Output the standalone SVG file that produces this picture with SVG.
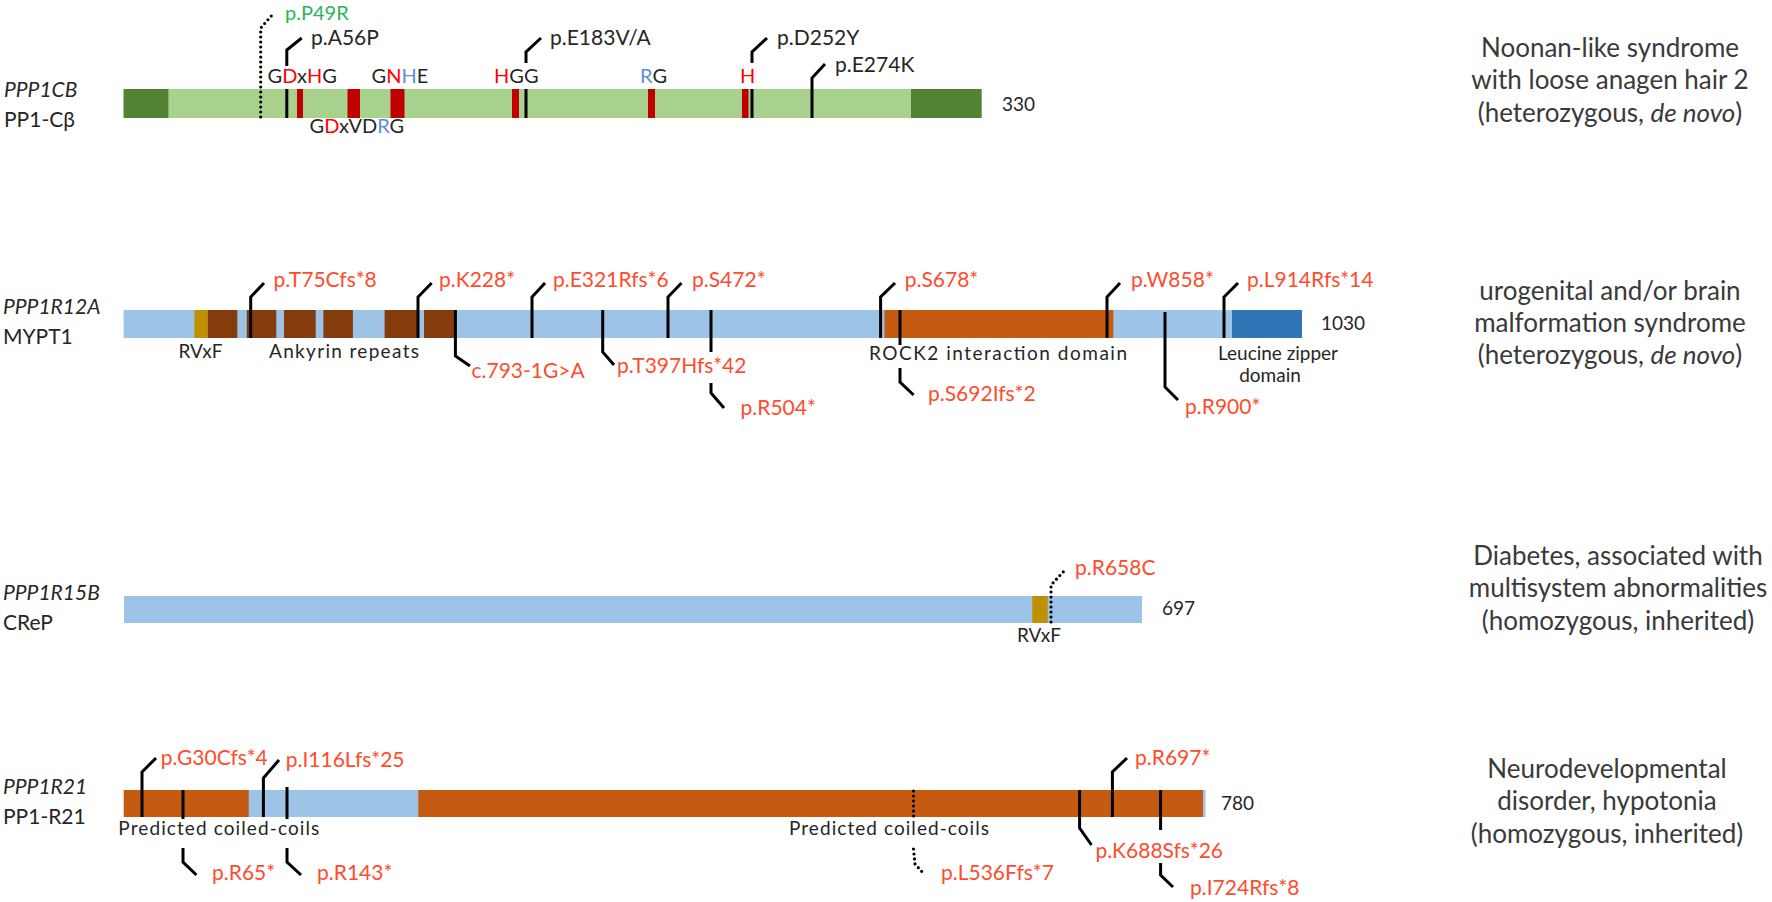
<svg xmlns="http://www.w3.org/2000/svg" width="1772" height="902" viewBox="0 0 1772 902">
<style>
text{font-family:Lato,"Open Sans","Liberation Sans",sans-serif}
.gene{font-size:21px;fill:#262626;font-style:italic}
.prot{font-size:21px;fill:#262626}
.mut{font-size:21px;fill:#fe4c2c}
.mutk{font-size:21px;fill:#262626}
.mutg{font-size:20px;fill:#2db35d}
.mot{font-size:20px;fill:#262626}
.dom{font-size:19px;fill:#262626}
.len{font-size:19px;fill:#262626}
.dis{font-size:26px;fill:#3a3a3a;text-anchor:middle}
.ln{stroke:#000;stroke-width:3;fill:none}
.dot{stroke:#000;stroke-width:3.2;fill:none;stroke-dasharray:0 5;stroke-linecap:round}
.r{fill:#ff0000}
.b{fill:#5b8ed6}
.lg{fill:#a9d18e}.dg{fill:#548235}.rd{fill:#c00000}.lb{fill:#9dc3e6}.gd{fill:#bf9000}.br{fill:#843c0c}.or{fill:#c55a11}.db{fill:#2e75b6}.bk{fill:#000}
</style>

<g id="ppp1cb">
  <rect class="lg" x="123.6" y="89" width="858" height="29"/>
  <rect class="dg" x="123.6" y="89" width="44.8" height="29"/>
  <rect class="dg" x="911" y="89" width="70.6" height="29"/>
  <rect class="rd" x="297" y="89" width="6" height="29"/>
  <rect class="rd" x="347.5" y="89" width="12.5" height="29"/>
  <rect class="rd" x="390.5" y="89" width="14" height="29"/>
  <rect class="rd" x="512" y="89" width="7" height="29"/>
  <rect class="rd" x="648" y="89" width="7" height="29"/>
  <rect class="rd" x="742" y="89" width="6.5" height="29"/>
  <rect class="bk" x="285.3" y="89" width="3" height="29"/>
  <rect class="bk" x="524.5" y="89" width="3" height="29"/>
  <rect class="bk" x="750.5" y="89" width="3" height="29"/>
  <text class="gene" x="4" y="97">PPP1CB</text>
  <text class="prot" x="4" y="127">PP1-Cβ</text>
  <text class="mot" x="267.5" y="82.5">G<tspan class="r">D</tspan>x<tspan class="r">H</tspan>G</text>
  <text class="mot" x="371.5" y="82.5">G<tspan class="r">N</tspan><tspan class="b">H</tspan>E</text>
  <text class="mot" x="494" y="82.5"><tspan class="r">H</tspan>GG</text>
  <text class="mot" x="640" y="82.5"><tspan class="b">R</tspan>G</text>
  <text class="mot" x="740" y="82.5" style="fill:#ff0000">H</text>
  <text class="mot" x="309.5" y="132.5">G<tspan class="r">D</tspan>xVD<tspan class="b">R</tspan>G</text>
  <text class="len" x="1002" y="111">330</text>
  <text class="mutg" x="285" y="20">p.P49R</text>
  <text class="mutk" x="311" y="45">p.A56P</text>
  <text class="mutk" x="550" y="45">p.E183V/A</text>
  <text class="mutk" x="777" y="45">p.D252Y</text>
  <text class="mutk" x="835" y="72">p.E274K</text>
</g>

<g id="ppp1cb-disease">
  <text class="dis" x="1610" y="57">Noonan-like syndrome</text>
  <text class="dis" x="1610" y="89">with loose anagen hair 2</text>
  <text class="dis" x="1610" y="122">(heterozygous, <tspan font-style="italic">de novo</tspan>)</text>
</g>

<g id="ppp1r12a">
  <rect class="lb" x="123.6" y="310" width="1178.4" height="28"/>
  <rect class="gd" x="194.4" y="310" width="13.4" height="28"/>
  <rect class="br" x="207.8" y="310" width="29.5" height="28"/>
  <rect class="br" x="246.8" y="310" width="29.5" height="28"/>
  <rect class="br" x="284" y="310" width="31.7" height="28"/>
  <rect class="br" x="323.4" y="310" width="29.5" height="28"/>
  <rect class="br" x="384.6" y="310" width="34.4" height="28"/>
  <rect class="br" x="424" y="310" width="31.4" height="28"/>
  <rect class="or" x="884.4" y="310" width="228.9" height="28"/>
  <rect class="db" x="1232" y="310" width="70" height="28"/>
  <text class="gene" x="3" y="314">PPP1R12A</text>
  <text class="prot" x="3" y="344">MYPT1</text>
  <text class="dom" x="178.5" y="358">RVxF</text>
  <text class="dom" x="269" y="358" textLength="150" lengthAdjust="spacing">Ankyrin repeats</text>
  <text class="dom" x="869" y="360" textLength="258" lengthAdjust="spacing">ROCK2 interaction domain</text>
  <text class="dom" x="1218" y="360" textLength="120" lengthAdjust="spacing">Leucine zipper</text>
  <text class="dom" x="1270" y="382" text-anchor="middle">domain</text>
  <text class="len" x="1321" y="330">1030</text>
  <text class="mut" x="273.6" y="287">p.T75Cfs*8</text>
  <text class="mut" x="439" y="287">p.K228*</text>
  <text class="mut" x="471.5" y="378">c.793-1G&gt;A</text>
  <text class="mut" x="553" y="287">p.E321Rfs*6</text>
  <text class="mut" x="617" y="373">p.T397Hfs*42</text>
  <text class="mut" x="692" y="287">p.S472*</text>
  <text class="mut" x="740.5" y="415">p.R504*</text>
  <text class="mut" x="904.7" y="287">p.S678*</text>
  <text class="mut" x="928" y="401">p.S692Ifs*2</text>
  <text class="mut" x="1131" y="287">p.W858*</text>
  <text class="mut" x="1185" y="414">p.R900*</text>
  <text class="mut" x="1247" y="287">p.L914Rfs*14</text>
</g>

<g id="ppp1r12a-disease">
  <text class="dis" x="1610" y="300">urogenital and/or brain</text>
  <text class="dis" x="1610" y="332">malformation syndrome</text>
  <text class="dis" x="1610" y="364">(heterozygous, <tspan font-style="italic">de novo</tspan>)</text>
</g>

<g id="ppp1r15b">
  <rect class="lb" x="124" y="596" width="1018" height="27"/>
  <rect class="gd" x="1032.3" y="596" width="15.4" height="27"/>
  <text class="gene" x="3" y="600">PPP1R15B</text>
  <text class="prot" x="3" y="630">CReP</text>
  <text class="dom" x="1017" y="642">RVxF</text>
  <text class="len" x="1162" y="615">697</text>
  <text class="mut" x="1075" y="575">p.R658C</text>
</g>

<g id="ppp1r15b-disease">
  <text class="dis" x="1618" y="565">Diabetes, associated with</text>
  <text class="dis" x="1618" y="597">multisystem abnormalities</text>
  <text class="dis" x="1618" y="630">(homozygous, inherited)</text>
</g>

<g id="ppp1r21">
  <rect class="or" x="123.7" y="790" width="1079.3" height="27"/>
  <rect class="lb" x="248.7" y="790" width="169.6" height="27"/>
  <rect class="lb" x="1203" y="790" width="2.5" height="27"/>
  <text class="gene" x="3" y="794">PPP1R21</text>
  <text class="prot" x="3" y="824">PP1-R21</text>
  <text class="dom" x="118.3" y="835" textLength="201" lengthAdjust="spacing">Predicted coiled-coils</text>
  <text class="dom" x="789" y="835" textLength="200" lengthAdjust="spacing">Predicted coiled-coils</text>
  <text class="len" x="1221" y="810">780</text>
  <text class="mut" x="160.7" y="765">p.G30Cfs*4</text>
  <text class="mut" x="212" y="880">p.R65*</text>
  <text class="mut" x="285.7" y="767">p.I116Lfs*25</text>
  <text class="mut" x="317" y="880">p.R143*</text>
  <text class="mut" x="941" y="880">p.L536Ffs*7</text>
  <text class="mut" x="1095.4" y="858">p.K688Sfs*26</text>
  <text class="mut" x="1135" y="765">p.R697*</text>
  <text class="mut" x="1190" y="895">p.I724Rfs*8</text>
</g>

<g id="ppp1r21-disease">
  <text class="dis" x="1607" y="778">Neurodevelopmental</text>
  <text class="dis" x="1607" y="810">disorder, hypotonia</text>
  <text class="dis" x="1607" y="843">(homozygous, inherited)</text>
</g>

<g id="connectors">
  <path class="dot" d="M260.7,117 V28 L273,14"/>
  <path class="ln" d="M286.8,66 V50 L301.7,38"/>
  <path class="ln" d="M526,63 V52 L541,38"/>
  <path class="ln" d="M752,63 V52 L767,38"/>
  <path class="ln" d="M812,118 V78 L825,64"/>

  <path class="ln" d="M250.7,338 V297 L264,283"/>
  <path class="ln" d="M418,338 V297 L431.7,283"/>
  <path class="ln" d="M455.4,310 V356 L470,366"/>
  <path class="ln" d="M532,338 V297 L545,283"/>
  <path class="ln" d="M602.7,310 V352 L614,365"/>
  <path class="ln" d="M668,338 V297 L681.5,283"/>
  <path class="ln" d="M711,310 V352 M711,383 V393 L724,408"/>
  <path class="ln" d="M880.6,338 V297 L895,283"/>
  <path class="ln" d="M900,310 V345 M900,368 V382 L913.6,395"/>
  <path class="ln" d="M1107,338 V297 L1120,283"/>
  <path class="ln" d="M1165,312 V387 L1178,400"/>
  <path class="ln" d="M1224,338 V297 L1238,283"/>

  <path class="dot" d="M1051,622 V585 L1065,570"/>

  <path class="ln" d="M142,817 V772 L156,758"/>
  <path class="ln" d="M183,790 V819 M183,848 V862 L196.4,875"/>
  <path class="ln" d="M263.4,817 V778 L279,760"/>
  <path class="ln" d="M287,787 V819 M287,848 V862 L301,875"/>
  <path class="dot" d="M913.5,791 V818 M913.5,849 L915,864 L925,875"/>
  <path class="ln" d="M1079.6,790 V828 L1091.5,845"/>
  <path class="ln" d="M1112.4,817 V772 L1127,758"/>
  <path class="ln" d="M1160.6,790 V830 M1160.6,863 V875 L1173,887"/>
</g>
</svg>
